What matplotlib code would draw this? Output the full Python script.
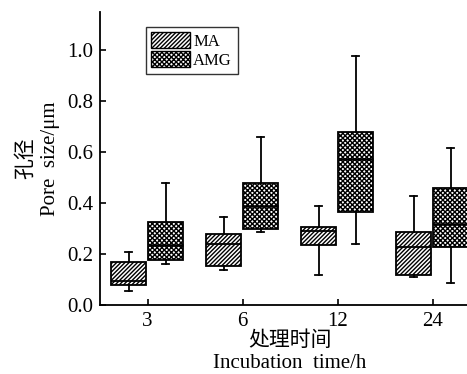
import numpy as np
import matplotlib.pyplot as plt
from matplotlib.patches import Patch

plt.rcParams['font.family'] = ['Liberation Serif', 'Noto Sans CJK SC']
plt.rcParams['font.size'] = 15
plt.rcParams['hatch.linewidth'] = 1.0

times = ['3', '6', '12', '24']

# box stats: whislo, q1, med, q3, whishi
ma_lo = [0.056, 0.137, 0.117, 0.109]
ma_q1 = [0.077, 0.154, 0.237, 0.116]
ma_med = [0.095, 0.238, 0.291, 0.229]
ma_q3 = [0.167, 0.278, 0.307, 0.288]
ma_hi = [0.207, 0.346, 0.388, 0.427]

amg_lo = [0.160, 0.288, 0.239, 0.086]
amg_q1 = [0.175, 0.297, 0.366, 0.226]
amg_med = [0.235, 0.388, 0.573, 0.318]
amg_q3 = [0.327, 0.480, 0.680, 0.459]
amg_hi = [0.480, 0.660, 0.978, 0.617]

MA_HATCH = '////////'
AMG_HATCH = 'xxxxxxx'


def make_stats(lo, q1, med, q3, hi):
    return [dict(whislo=a, q1=b, med=c, q3=d, whishi=e, fliers=[])
            for a, b, c, d, e in zip(lo, q1, med, q3, hi)]


fig = plt.figure(figsize=(4.67, 3.74), dpi=100)
ax = fig.add_axes([100 / 467, 69 / 374, 380 / 467, 293 / 374])

pos = np.arange(1, len(times) + 1)
line_kw = dict(color='black', linewidth=1.3)

ax.bxp(make_stats(ma_lo, ma_q1, ma_med, ma_q3, ma_hi), positions=pos - 0.2,
       widths=0.36, capwidths=0.08, patch_artist=True,
       boxprops=dict(facecolor='white', edgecolor='black', hatch=MA_HATCH, linewidth=1.3),
       medianprops=line_kw, whiskerprops=line_kw, capprops=line_kw,
       showfliers=False, manage_ticks=False)
ax.bxp(make_stats(amg_lo, amg_q1, amg_med, amg_q3, amg_hi), positions=pos + 0.19,
       widths=0.36, capwidths=0.08, patch_artist=True,
       boxprops=dict(facecolor='white', edgecolor='black', hatch=AMG_HATCH, linewidth=1.3),
       medianprops=dict(color='black', linewidth=1.8), whiskerprops=line_kw, capprops=line_kw,
       showfliers=False, manage_ticks=False)

ax.set_xlim(0.5, 4.5)
ax.set_ylim(0, 1.15)
ax.set_xticks(pos)
ax.set_xticklabels(times)
ax.set_yticks(np.arange(0, 1.01, 0.2))
ax.set_yticklabels(['0.0', '0.2', '0.4', '0.6', '0.8', '1.0'])
ax.tick_params(direction='in', length=4, width=1.2, pad=5)
for s in ['top', 'right']:
    ax.spines[s].set_visible(False)
for s in ['left', 'bottom']:
    ax.spines[s].set_linewidth(1.3)

ax.set_xlabel('处理时间\nIncubation  time/h', fontsize=15, linespacing=1.28, labelpad=0)
ax.set_ylabel('孔径\nPore  size/μm', fontsize=15, linespacing=1.35, labelpad=5)

handles = [Patch(facecolor='white', edgecolor='black', hatch=MA_HATCH),
           Patch(facecolor='white', edgecolor='black', hatch=AMG_HATCH)]
ax.legend(handles, ['MA', 'AMG'], loc='upper left', bbox_to_anchor=(0.12, 0.95),
          fontsize=12, frameon=True, fancybox=False, edgecolor='black',
          borderaxespad=0, handlelength=2.3, handleheight=1.1, handletextpad=0.2,
          labelspacing=0.05, borderpad=0.35)

fig.savefig('out.png', dpi=100)
